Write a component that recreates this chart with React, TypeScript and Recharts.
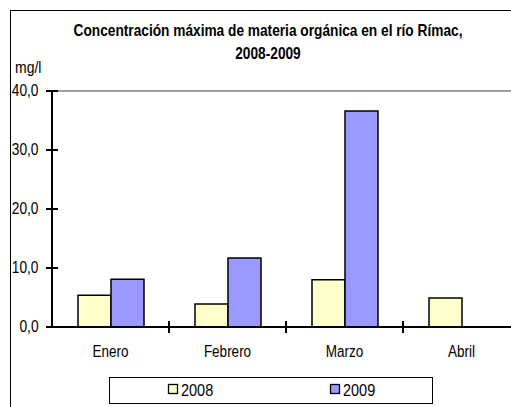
// Concentración máxima de materia orgánica en el río Rímac, 2008-2009 (mg/l)
import { Bar, BarChart, Customized, ReferenceLine, XAxis, YAxis } from "recharts"

const months = ["Enero", "Febrero", "Marzo", "Abril"]
const values2008 = [5.4, 3.9, 8.0, 4.9]
const values2009: (number | null)[] = [8.1, 11.7, 36.6, null]
const yTicks = [0, 10, 20, 30, 40]
const seriesNames = ["2008", "2009"]

const COLOR_2008 = "#FFFFCC"
const COLOR_2009 = "#9999FF"
const FONT = "'Liberation Sans', Arial, sans-serif"
// the source picture was stretched vertically, so its glyphs are taller than wide
const STRETCH = 1.2

const W = 540
const H = 430
const MARGIN = { top: 91, right: 20, bottom: 73, left: 10 }
const Y_AXIS_W = 42
const BAND = (W - MARGIN.left - Y_AXIS_W - MARGIN.right) / months.length

const data = months.map((month, i) => ({
  month,
  y2008: values2008[i],
  y2009: values2009[i],
}))

const fmt = (v: number) => v.toFixed(1).replace(".", ",")

function Txt({ x, y, size, anchor = "start", bold = false, children }: any) {
  return (
    <text
      transform={`translate(${x},${y}) scale(1,${STRETCH})`}
      textAnchor={anchor}
      fontFamily={FONT}
      fontSize={size}
      fontWeight={bold ? "bold" : "normal"}
      fill="#000"
    >
      {children}
    </text>
  )
}

function YTick({ x, y, payload }: any) {
  return (
    <g>
      <line x1={x - 6} x2={x + 6} y1={y} y2={y} stroke="#000" strokeWidth={2} />
      <Txt x={x - 13.5} y={y + 5} size={13.7} anchor="end">
        {fmt(payload.value)}
      </Txt>
    </g>
  )
}

function XTick({ x, y, payload, index }: any) {
  return (
    <g>
      {index < months.length - 1 && (
        <line x1={x + BAND / 2} x2={x + BAND / 2} y1={y - 6} y2={y + 6} stroke="#000" strokeWidth={2} />
      )}
      <Txt x={x} y={y + 30} size={13.5} anchor="middle">
        {payload.value}
      </Txt>
    </g>
  )
}

function Decorations() {
  const legendColors = [COLOR_2008, COLOR_2009]
  const legendX = [168, 330]
  return (
    <g>
      <rect x={10.5} y={10.5} width={700} height={700} fill="none" stroke="#000" strokeWidth={1} />
      <Txt x={268} y={36} size={13.7} anchor="middle" bold>
        Concentración máxima de materia orgánica en el río Rímac,
      </Txt>
      <Txt x={268} y={59} size={13.7} anchor="middle" bold>
        2008-2009
      </Txt>
      <Txt x={15} y={73} size={14}>
        mg/l
      </Txt>
      <rect x={109.5} y={377.5} width={323} height={26} fill="#fff" stroke="#000" strokeWidth={1} />
      {seriesNames.map((name, i) => (
        <g key={name}>
          <rect x={legendX[i] + 0.5} y={384.5} width={9} height={9} fill={legendColors[i]} stroke="#000" strokeWidth={1.3} />
          <Txt x={legendX[i] + 13} y={396} size={14.5}>
            {name}
          </Txt>
        </g>
      ))}
    </g>
  )
}

export default function App() {
  return (
    <div style={{ position: "fixed", left: 0, top: 0, width: 511, height: 407, overflow: "hidden", background: "#fff" }}>
      <BarChart width={W} height={H} data={data} margin={MARGIN} barGap={0}>
        <ReferenceLine y={40} stroke="#808080" strokeWidth={1.5} />
        <XAxis
          dataKey="month"
          height={30}
          interval={0}
          tickSize={0}
          tickMargin={0}
          tickLine={false}
          axisLine={{ stroke: "#000", strokeWidth: 2 }}
          tick={<XTick />}
        />
        <YAxis
          width={Y_AXIS_W}
          domain={[0, 40]}
          ticks={yTicks}
          interval={0}
          tickSize={0}
          tickMargin={0}
          tickLine={false}
          axisLine={{ stroke: "#000", strokeWidth: 2 }}
          tick={<YTick />}
        />
        <Bar dataKey="y2008" name="2008" barSize={33} fill={COLOR_2008} stroke="#000" strokeWidth={1.5} isAnimationActive={false} />
        <Bar dataKey="y2009" name="2009" barSize={33} fill={COLOR_2009} stroke="#000" strokeWidth={1.5} isAnimationActive={false} />
        <Customized component={Decorations} />
      </BarChart>
    </div>
  )
}
